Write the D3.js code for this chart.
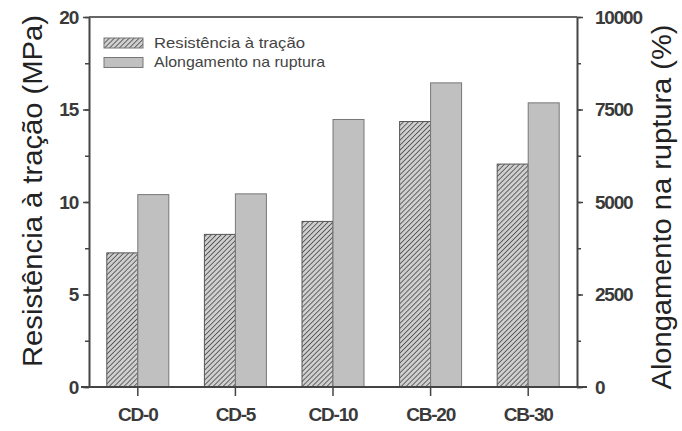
<!DOCTYPE html>
<html>
<head>
<meta charset="utf-8">
<script src="https://cdn.jsdelivr.net/npm/d3@7"></script>
<style>
  body { margin: 0; background: #fff; }
  text { font-family: Arial, "Liberation Sans", sans-serif; }
</style>
</head>
<body>
<svg id="chart" width="682" height="431"></svg>
<script>
const categories = ['CD-0', 'CD-5', 'CD-10', 'CB-20', 'CB-30'];
const tensile = [7.25, 8.25, 8.95, 14.35, 12.05];       // MPa, left axis
const elongation = [5200, 5220, 7230, 8220, 7680];      // %, right axis
const leftTicks = [0, 5, 10, 15, 20];
const rightTicks = [0, 2500, 5000, 7500, 10000];
const legendLabels = ['Resistência à tração', 'Alongamento na ruptura'];

const svg = d3.select('#chart');
const margin = { left: 89, right: 105, top: 17, bottom: 44 };
const W = 682, H = 431;
const x0 = margin.left, x1 = W - margin.right, y0 = H - margin.bottom, y1 = margin.top;

const x = d3.scaleBand().domain(categories).range([x0, x1]).padding(0);
const yL = d3.scaleLinear().domain([0, 20]).range([y0, y1]);
const yR = d3.scaleLinear().domain([0, 10000]).range([y0, y1]);
const barW = 31;

// hatch pattern
const defs = svg.append('defs');
const pat = defs.append('pattern')
    .attr('id', 'hatch')
    .attr('patternUnits', 'userSpaceOnUse')
    .attr('width', 3.5).attr('height', 3.5)
    .attr('patternTransform', 'rotate(45)');
pat.append('rect').attr('width', 3.5).attr('height', 3.5).attr('fill', '#d0d0d0');
pat.append('line').attr('x1', 0).attr('y1', 0).attr('x2', 0).attr('y2', 3.5)
    .attr('stroke', '#555').attr('stroke-width', 1.8);

const axisColor = '#444';

// bars
svg.append('g').selectAll('rect')
    .data(categories)
    .enter().append('rect')
    .attr('x', d => x(d) + x.bandwidth() / 2 - barW)
    .attr('y', (d, i) => yL(tensile[i]))
    .attr('width', barW)
    .attr('height', (d, i) => y0 - yL(tensile[i]))
    .attr('fill', 'url(#hatch)')
    .attr('stroke', '#555')
    .attr('stroke-width', 1);

svg.append('g').selectAll('rect')
    .data(categories)
    .enter().append('rect')
    .attr('x', d => x(d) + x.bandwidth() / 2)
    .attr('y', (d, i) => yR(elongation[i]))
    .attr('width', barW)
    .attr('height', (d, i) => y0 - yR(elongation[i]))
    .attr('fill', '#c0c0c0')
    .attr('stroke', '#777')
    .attr('stroke-width', 1);

// frame line on top
svg.append('line').attr('x1', x0).attr('x2', x1).attr('y1', y1).attr('y2', y1)
    .attr('stroke', '#666').attr('stroke-width', 2);

// axes
function styleAxis(g) {
    g.select('.domain').attr('stroke', axisColor).attr('stroke-width', 2);
    g.selectAll('.tick line').attr('stroke', axisColor).attr('stroke-width', 1.5);
    g.selectAll('.tick text')
        .attr('fill', '#3a3a3a')
        .attr('font-size', 19)
        .attr('font-weight', 'bold')
        .attr('letter-spacing', -1.2);
}

svg.append('g')
    .attr('transform', `translate(${x0},0)`)
    .call(d3.axisLeft(yL).tickValues(d3.range(0, 20.1, 2.5)).tickSize(4).tickFormat(''))
    .call(g => g.select('.domain').remove())
    .selectAll('line').attr('stroke', axisColor).attr('stroke-width', 1.5);
svg.append('g')
    .attr('transform', `translate(${x0},0)`)
    .call(d3.axisLeft(yL).tickValues(leftTicks).tickSize(6).tickSizeOuter(0).tickPadding(5))
    .call(styleAxis);

svg.append('g')
    .attr('transform', `translate(${x1},0)`)
    .call(d3.axisRight(yR).tickValues(d3.range(0, 10001, 1250)).tickSize(4).tickFormat(''))
    .call(g => g.select('.domain').remove())
    .selectAll('line').attr('stroke', axisColor).attr('stroke-width', 1.5);
svg.append('g')
    .attr('transform', `translate(${x1},0)`)
    .call(d3.axisRight(yR).tickValues(rightTicks).tickFormat(d3.format('d'))
        .tickSize(6).tickSizeOuter(0).tickPadding(12))
    .call(styleAxis);

svg.append('g')
    .attr('transform', `translate(0,${y0})`)
    .call(d3.axisBottom(x).tickSize(9).tickSizeOuter(0).tickPadding(12))
    .call(styleAxis)
    .call(g => g.select('.domain').attr('d', `M${x0 - 8},0H${x1 + 10}`));

// axis titles
svg.append('text')
    .attr('transform', `translate(42,191) rotate(-90)`)
    .attr('text-anchor', 'middle')
    .attr('font-size', 28)
    .attr('textLength', 352)
    .attr('lengthAdjust', 'spacingAndGlyphs')
    .attr('fill', '#222')
    .text('Resistência à tração (MPa)');

svg.append('text')
    .attr('transform', `translate(671,207) rotate(-90)`)
    .attr('text-anchor', 'middle')
    .attr('font-size', 27)
    .attr('textLength', 365)
    .attr('lengthAdjust', 'spacingAndGlyphs')
    .attr('fill', '#222')
    .text('Alongamento na ruptura (%)');

// legend
const legendWidths = [151, 171];
const legend = svg.append('g').attr('transform', 'translate(104,38)');
legendLabels.forEach((lab, i) => {
    const gy = i * 19.5;
    legend.append('rect')
        .attr('x', 0).attr('y', gy)
        .attr('width', 39).attr('height', 10)
        .attr('fill', i === 0 ? 'url(#hatch)' : '#c0c0c0')
        .attr('stroke', '#777');
    legend.append('text')
        .attr('x', 50).attr('y', gy + 9.5)
        .attr('font-size', 15)
        .attr('textLength', legendWidths[i])
        .attr('lengthAdjust', 'spacingAndGlyphs')
        .attr('fill', '#444')
        .text(lab);
});
</script>
</body>
</html>
